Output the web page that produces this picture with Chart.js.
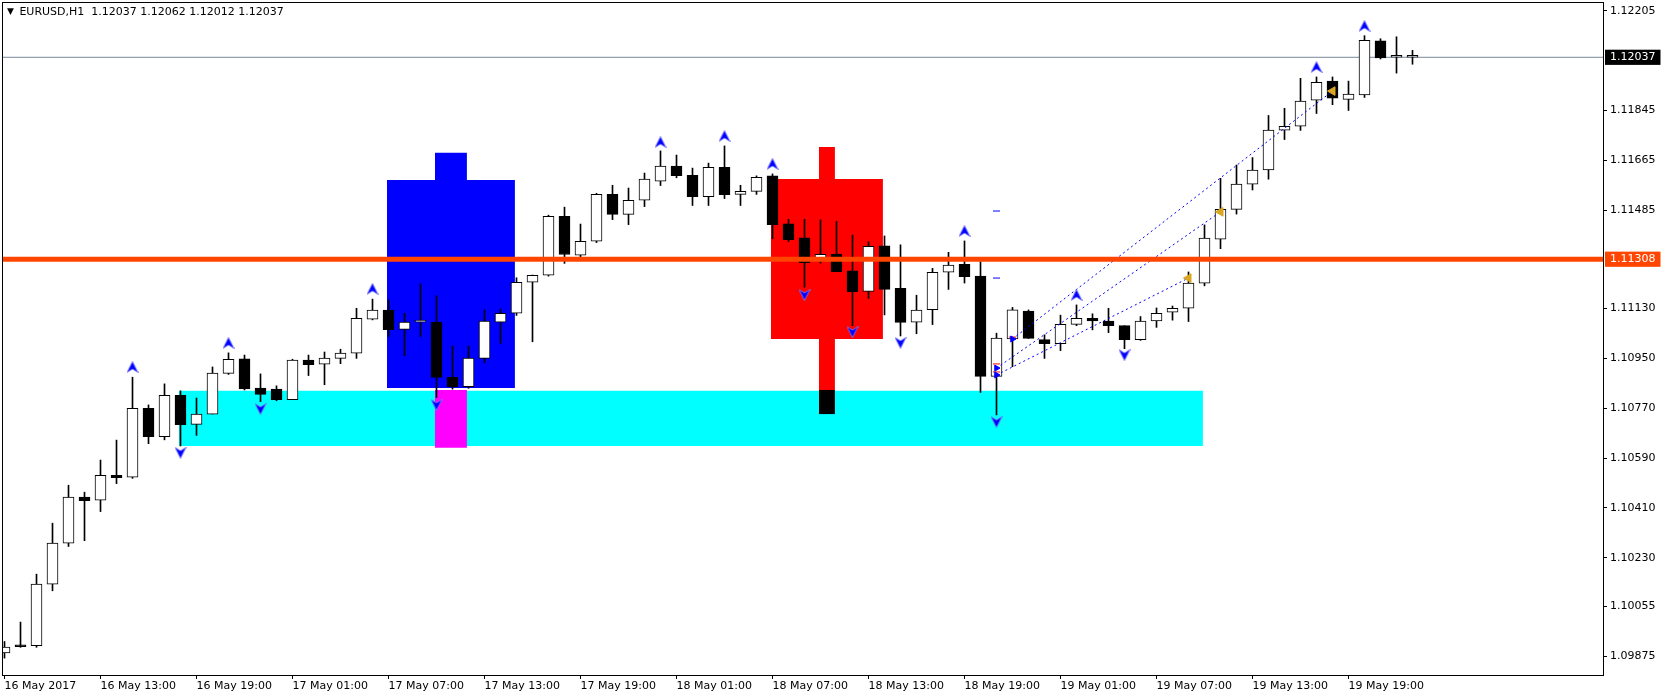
<!DOCTYPE html>
<html>
<head>
<meta charset="utf-8">
<title>EURUSD,H1</title>
<script src="https://cdn.jsdelivr.net/npm/chart.js@4.4.1/dist/chart.umd.min.js"></script>
<style>
  html, body { margin: 0; padding: 0; background: #fff; }
  #wrap { position: relative; width: 1663px; height: 699px; }
  #hdr { position: absolute; left: 7px; top: 5px; font: 11px "DejaVu Sans", sans-serif; color: #000; white-space: pre; }
  #hdr .tri { font-size: 9px; position: relative; top: -1px; margin-right: 2px; }
</style>
</head>
<body>
<div id="wrap">
  <canvas id="chart" width="1663" height="699"></canvas>
  <div id="hdr"></div>
</div>
<script>
// EURUSD H1 bars, 16 May 2017 07:00 .. 19 May 2017 23:00 (index = bar number)
const opens = [1.09887,1.09913,1.09913,1.10135,1.10283,1.10449,1.10438,1.10528,1.10521,1.10770,
  1.10667,1.10817,1.10712,1.10749,1.10896,1.10948,1.10843,1.10839,1.10801,1.10944,
  1.10929,1.10950,1.10969,1.11092,1.11124,1.11055,1.11081,1.11081,1.10882,1.10848,
  1.10950,1.11081,1.11113,1.11225,1.11250,1.11463,1.11323,1.11373,1.11542,1.11470,
  1.11521,1.11590,1.11644,1.11611,1.11534,1.11640,1.11542,1.11553,1.11609,1.11436,
  1.11385,1.11310,1.11327,1.11266,1.11192,1.11356,1.11203,1.11081,1.11126,1.11261,
  1.11290,1.11247,1.10885,1.11020,1.11121,1.11018,1.11003,1.11073,1.11095,1.11085,
  1.11068,1.11018,1.11085,1.11117,1.11131,1.11222,1.11380,1.11488,1.11579,1.11630,
  1.11774,1.11788,1.11882,1.11951,1.11885,1.11901,1.12096,1.12037,1.12037];
const highs = [1.09928,1.09998,1.10171,1.10355,1.10492,1.10467,1.10583,1.10655,1.10882,1.10782,
  1.10858,1.10833,1.10807,1.10919,1.10970,1.10962,1.10894,1.10851,1.10947,1.10962,
  1.10973,1.10983,1.11131,1.11164,1.11161,1.11113,1.11219,1.11176,1.10995,1.10995,
  1.11125,1.11128,1.11241,1.11251,1.11467,1.11496,1.11435,1.11546,1.11575,1.11565,
  1.11619,1.11699,1.11684,1.11637,1.11655,1.11717,1.11575,1.11609,1.11616,1.11452,
  1.11452,1.11450,1.11445,1.11395,1.11371,1.11392,1.11360,1.11178,1.11275,1.11333,
  1.11374,1.11299,1.11041,1.11134,1.11125,1.11035,1.11106,1.11143,1.11111,1.11131,
  1.11068,1.11101,1.11132,1.11139,1.11262,1.11432,1.11600,1.11648,1.11675,1.11827,
  1.11853,1.11961,1.11966,1.11966,1.11951,1.12115,1.12104,1.12111,1.12062];
const lows = [1.09868,1.09907,1.09907,1.10111,1.10271,1.10292,1.10397,1.10498,1.10517,1.10642,
  1.10656,1.10634,1.10672,1.10749,1.10892,1.10836,1.10794,1.10797,1.10801,1.10888,
  1.10855,1.10931,1.10950,1.11089,1.11029,1.10960,1.11029,1.10809,1.10839,1.10842,
  1.10934,1.11004,1.11105,1.11010,1.11247,1.11293,1.11317,1.11368,1.11451,1.11433,
  1.11498,1.11574,1.11602,1.11502,1.11502,1.11527,1.11502,1.11542,1.11382,1.11372,
  1.11207,1.11294,1.11263,1.11068,1.11166,1.11107,1.11031,1.11039,1.11072,1.11199,
  1.11222,1.10827,1.10746,1.10920,1.11022,1.10950,1.10978,1.11068,1.11053,1.11043,
  1.10985,1.11015,1.11062,1.11088,1.11083,1.11212,1.11346,1.11471,1.11558,1.11597,
  1.11740,1.11773,1.11834,1.11866,1.11845,1.11892,1.12031,1.11980,1.12012];
const closes = [1.09908,1.09909,1.10135,1.10283,1.10449,1.10436,1.10528,1.10519,1.10770,1.10667,
  1.10817,1.10711,1.10749,1.10897,1.10947,1.10840,1.10820,1.10801,1.10944,1.10927,
  1.10951,1.10969,1.11095,1.11124,1.11054,1.11081,1.11081,1.10881,1.10848,1.10951,
  1.11085,1.11113,1.11225,1.11250,1.11463,1.11325,1.11373,1.11542,1.11470,1.11521,
  1.11597,1.11644,1.11610,1.11534,1.11640,1.11541,1.11553,1.11604,1.11433,1.11379,
  1.11296,1.11326,1.11263,1.11191,1.11355,1.11199,1.11080,1.11124,1.11261,1.11287,
  1.11245,1.10885,1.11023,1.11125,1.11022,1.11003,1.11073,1.11095,1.11085,1.11068,
  1.11018,1.11085,1.11113,1.11131,1.11222,1.11384,1.11488,1.11579,1.11630,1.11774,
  1.11788,1.11879,1.11947,1.11889,1.11904,1.12098,1.12035,1.12037,1.12037];

// axis labels
const timeTicks = [0, 6, 12, 18, 24, 30, 36, 42, 48, 54, 60, 66, 72, 78, 84];
const timeLabels = ['16 May 2017', '16 May 13:00', '16 May 19:00', '17 May 01:00', '17 May 07:00',
  '17 May 13:00', '17 May 19:00', '18 May 01:00', '18 May 07:00', '18 May 13:00', '18 May 19:00',
  '19 May 01:00', '19 May 07:00', '19 May 13:00', '19 May 19:00'];
const priceTicks = [1.12205, 1.11845, 1.11665, 1.11485, 1.11130, 1.10950, 1.10770,
  1.10590, 1.10410, 1.10230, 1.10055, 1.09875];
const lastPrice = 1.12037;
const levelPrice = 1.11308;

// zones: [fromBar, toBar, top, bottom]
const cyanZone = [10.9, 74.9, 1.10833, 1.10634];
const blueZone = [23.9, 31.9, 1.11594, 1.10843];
const blueCap = [26.9, 28.9, 1.11692, 1.11594];
const magentaZone = [26.9, 28.9, 1.10836, 1.10627];
const redZone = [47.9, 54.9, 1.11598, 1.11020];
const redStem = [50.9, 51.9, 1.11713, 1.10836];
const blackStem = [50.9, 51.9, 1.10836, 1.10749];

// fractals
const upFractalBars = [8, 14, 23, 41, 45, 48, 60, 67, 82, 85];
const upFractalPrices = [1.10919, 1.11006, 1.11201, 1.11731, 1.11753, 1.11652, 1.11410, 1.11179, 1.12002, 1.12150];
const downFractalBars = [11, 16, 27, 50, 53, 56, 62, 70];
const downFractalPrices = [1.10609, 1.10767, 1.10782, 1.11179, 1.11045, 1.11006, 1.10720, 1.10962];

// dotted channel lines: start bar/price -> end bar/price
const trendStartBars = [63, 62, 62];
const trendStartPrices = [1.11020, 1.10915, 1.10890];
const trendEndBars = [83, 76, 74];
const trendEndPrices = [1.11915, 1.11479, 1.11240];
const redTickBars = [62, 62, 63];
const redTickPrices = [1.10930, 1.10901, 1.11027];
const blueDashBars = [62, 62];
const blueDashPrices = [1.11482, 1.11240];

const xMin = -0.09375, xMax = 99.90625;
const yMin = 1.09807, yMax = 1.12233;

const last = opens.length - 1;
document.getElementById('hdr').innerHTML = '<span class="tri">\u25BC</span> EURUSD,H1  ' +
  [opens[last], highs[last], lows[last], closes[last]].map(v => v.toFixed(5)).join(' ');

function makeArrow(up) {
  const c = document.createElement('canvas');
  c.width = 12; c.height = 12;
  const g = c.getContext('2d');
  g.beginPath();
  if (up) { g.moveTo(6, 0.5); g.lineTo(11.5, 11.5); g.lineTo(6, 8); g.lineTo(0.5, 11.5); }
  else { g.moveTo(6, 11.5); g.lineTo(11.5, 0.5); g.lineTo(6, 4); g.lineTo(0.5, 0.5); }
  g.closePath();
  g.fillStyle = '#0000ff';
  g.fill();
  g.strokeStyle = 'rgba(120,120,255,0.85)';
  g.lineWidth = 1;
  g.stroke();
  return c;
}

function zone(z, color, order) {
  return {
    type: 'line', order: order,
    data: [{x: z[0], y: z[2]}, {x: z[1], y: z[2]}],
    fill: {value: z[3]}, backgroundColor: color,
    borderColor: 'rgba(0,0,0,0)', borderWidth: 0, pointRadius: 0
  };
}

function hline(p, color, width, order) {
  return {
    type: 'line', order: order, clip: 0,
    data: [{x: xMin, y: p}, {x: xMax, y: p}],
    borderColor: color, borderWidth: width, pointRadius: 0, fill: false
  };
}

function points(xs, ys, extra) {
  return Object.assign({
    type: 'line', order: 1, showLine: false,
    data: xs.map((x, i) => ({x: x, y: ys[i]}))
  }, extra);
}

const datasets = [
  hline(levelPrice, '#ff4500', 5, 0),
  points(upFractalBars, upFractalPrices, {pointStyle: makeArrow(true), pointRadius: 6}),
  points(downFractalBars, downFractalPrices, {pointStyle: makeArrow(false), pointRadius: 6}),
  points(trendEndBars, trendEndPrices, {pointStyle: 'triangle', rotation: 270, pointRadius: 5,
    backgroundColor: '#daa520', borderColor: '#daa520', borderWidth: 1}),
  points(trendStartBars, trendStartPrices, {pointStyle: 'triangle', rotation: 90, pointRadius: 3.5,
    backgroundColor: '#0000ff', borderColor: '#0000ff', borderWidth: 1}),
  points(redTickBars, redTickPrices, {pointStyle: 'line', pointRadius: 3.5, borderColor: '#ff0000', borderWidth: 1}),
  points(blueDashBars, blueDashPrices, {pointStyle: 'line', pointRadius: 3.5, borderColor: '#0000ff', borderWidth: 1})
];

trendStartBars.forEach((b, i) => {
  datasets.push({
    type: 'line', order: 1,
    data: [{x: b, y: trendStartPrices[i]}, {x: trendEndBars[i], y: trendEndPrices[i]}],
    borderColor: '#0000ff', borderWidth: 1, borderDash: [2, 3], pointRadius: 0, fill: false
  });
});

datasets.push({
  type: 'bar', order: 2, grouped: false,
  data: opens.map((o, i) => ({x: i, y: [Math.min(o, closes[i]), Math.max(o, closes[i])]})),
  backgroundColor: opens.map((o, i) => closes[i] >= o ? '#ffffff' : '#000000'),
  borderColor: '#000000', borderWidth: 1, borderSkipped: false,
  barThickness: 11, minBarLength: 2
});
datasets.push({
  type: 'bar', order: 3, grouped: false,
  data: highs.map((h, i) => ({x: i, y: [lows[i], h]})),
  backgroundColor: '#000000', borderWidth: 0, barThickness: 1
});
datasets.push(hline(lastPrice, '#778899', 1, 4));
datasets.push(zone(blackStem, '#000000', 5));
datasets.push(zone(magentaZone, '#ff00ff', 6));
datasets.push(zone(redStem, '#ff0000', 6));
datasets.push(zone(redZone, '#ff0000', 6));
datasets.push(zone(blueCap, '#0000ff', 6));
datasets.push(zone(blueZone, '#0000ff', 6));
datasets.push(zone(cyanZone, '#00ffff', 7));

const isMarked = v => v === lastPrice || v === levelPrice;

const framePlugin = {
  id: 'frame',
  afterDraw(chart) {
    const {ctx, chartArea: a} = chart;
    ctx.save();
    ctx.strokeStyle = '#000';
    ctx.lineWidth = 1;
    ctx.strokeRect(a.left - 0.5, a.top - 0.5, a.right - a.left + 1, a.bottom - a.top + 1);
    ctx.restore();
  }
};

function noPadding(axis) {
  axis.paddingTop = 0;
  axis.paddingBottom = 0;
  axis.paddingLeft = 0;
  axis.paddingRight = 0;
}

new Chart(document.getElementById('chart'), {
  type: 'bar',
  data: {datasets: datasets},
  plugins: [framePlugin],
  options: {
    responsive: false,
    devicePixelRatio: 1,
    animation: false,
    events: [],
    layout: {autoPadding: false, padding: {left: 3, top: 3, right: 0, bottom: 0}},
    plugins: {legend: {display: false}, tooltip: {enabled: false}, title: {display: false}},
    scales: {
      x: {
        type: 'linear', min: xMin, max: xMax, offset: false,
        afterBuildTicks: axis => { axis.ticks = timeTicks.map(v => ({value: v})); },
        afterFit: axis => { axis.height = 24; noPadding(axis); },
        border: {display: false},
        grid: {drawOnChartArea: false, drawTicks: true, tickLength: 4, color: '#000', offset: false},
        ticks: {
          autoSkip: false, maxRotation: 0, minRotation: 0, align: 'start', padding: 1,
          color: '#000', font: {family: 'DejaVu Sans', size: 11},
          callback: v => timeLabels[timeTicks.indexOf(v)]
        }
      },
      y: {
        type: 'linear', position: 'right', min: yMin, max: yMax,
        afterBuildTicks: axis => {
          axis.ticks = priceTicks.concat([lastPrice, levelPrice]).map(v => ({value: v}));
        },
        afterFit: axis => { axis.width = 60; noPadding(axis); },
        border: {display: false},
        grid: {
          drawOnChartArea: false, drawTicks: true, tickLength: 4,
          color: ctx => (ctx.tick && isMarked(ctx.tick.value)) ? 'rgba(0,0,0,0)' : '#000'
        },
        ticks: {
          autoSkip: false, padding: 3,
          font: {family: 'DejaVu Sans', size: 11},
          color: ctx => isMarked(ctx.tick.value) ? '#fff' : '#000',
          showLabelBackdrop: ctx => isMarked(ctx.tick.value),
          backdropColor: ctx => ctx.tick.value === levelPrice ? '#ff4500' : '#000',
          backdropPadding: {left: 5, right: 5, top: 1, bottom: 1},
          callback: v => v.toFixed(5)
        }
      }
    }
  }
});
</script>
</body>
</html>
